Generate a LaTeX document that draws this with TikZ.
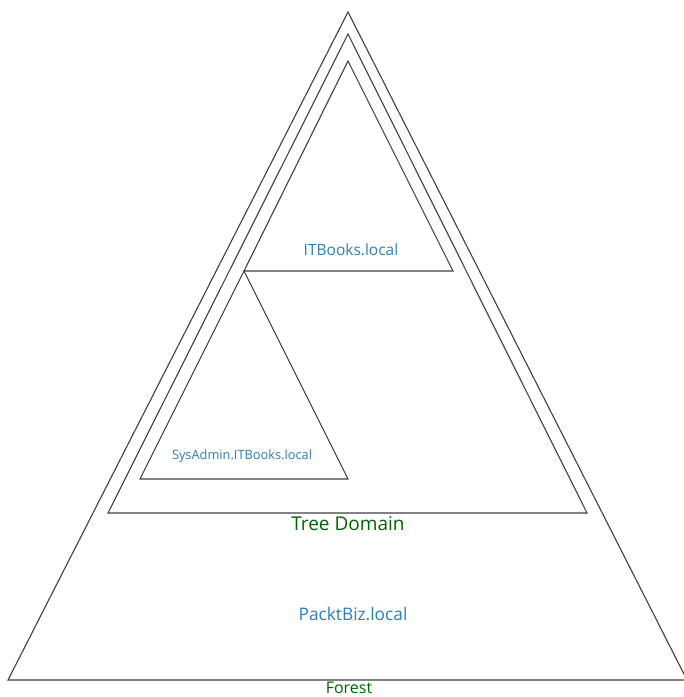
\documentclass[tikz,border=0pt]{standalone}
\usepackage{fontspec}
\setmainfont{Open Sans}
\definecolor{dnsblue}{RGB}{46,125,190}
\definecolor{treegreen}{RGB}{0,100,0}
\begin{document}
\begin{tikzpicture}[
x=1pt,y=-1pt,
edge/.style={draw=black!75,line width=1.1pt,line join=miter},
dnsname/.style={text=dnsblue,font=\fontsize{15.5}{18}\selectfont},
subname/.style={text=dnsblue,font=\fontsize{12.8}{14}\selectfont},
level/.style={text=treegreen,font=\fontsize{19}{21}\selectfont},
]
\useasboundingbox (0,0) rectangle (684,697);
%forest
\coordinate (fTop) at (348,12);
\coordinate (fLeft) at (8,680);
\coordinate (fRight) at (687,680);
\draw[edge] (fTop)--(fLeft)--(fRight)--cycle;
%tree domain
\coordinate (tTop) at (348,34);
\coordinate (tLeft) at (108,513);
\coordinate (tRight) at (587,513);
\draw[edge] (tTop)--(tLeft)--(tRight)--cycle;
%ITBooks.local
\coordinate (iTop) at (348,61);
\coordinate (iLeft) at (244,271);
\coordinate (iRight) at (453,271);
\draw[edge] (iTop)--(iLeft)--(iRight)--cycle;
%SysAdmin.ITBooks.local
\coordinate (sLeft) at (140,479);
\coordinate (sRight) at (348,479);
\draw[edge] (iLeft)--(sLeft)--(sRight)--cycle;
%labels
\node[dnsname] (itbooks) at (351,250) {ITBooks.local};
\node[subname] (sysadmin) at (242,456) {SysAdmin.ITBooks.local};
\node[level] (tree) at (348,524) {Tree Domain};
\node[dnsname,font=\fontsize{17.3}{20}\selectfont] (packtbiz) at (353,614) {PacktBiz.local};
\node[level,font=\fontsize{16}{18}\selectfont,anchor=north,inner sep=0pt] (forest) at (349,682) {Forest};
\end{tikzpicture}
\end{document}
